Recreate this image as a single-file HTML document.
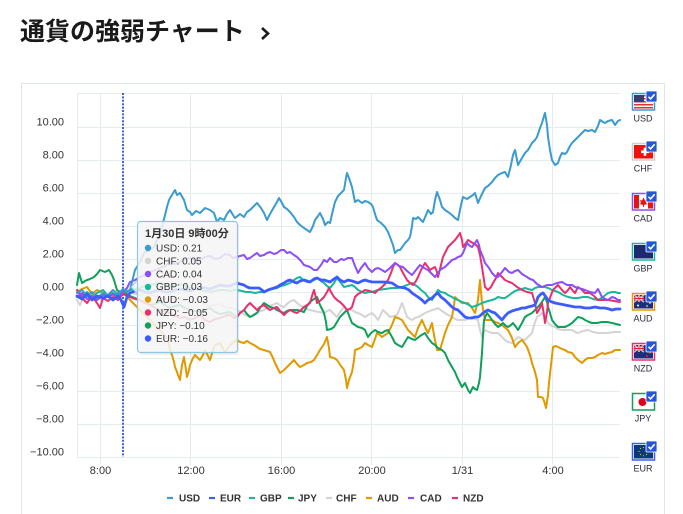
<!DOCTYPE html>
<html><head><meta charset="utf-8"><style>
html,body{margin:0;padding:0;background:#fff;}
svg{display:block;}
text{font-family:"Liberation Sans","Noto Sans CJK JP",sans-serif;}
</style></head><body>
<svg width="683" height="514" viewBox="0 0 683 514" xmlns="http://www.w3.org/2000/svg">
<text x="20" y="40" font-size="25" font-weight="bold" fill="#1a1a1a" style="font-family:'Liberation Sans','Noto Sans CJK JP',sans-serif">通貨の強弱チャート</text>
<polyline points="262,28 268,33.5 262,39" fill="none" stroke="#1a1a1a" stroke-width="2.6"/>
<rect x="21.5" y="83.5" width="643" height="440" fill="none" stroke="#dfe6e9" stroke-width="1"/>
<g stroke="#e5ecee" stroke-width="1" fill="none">
<line x1="77" y1="93.5" x2="620" y2="93.5"/>
<line x1="77" y1="127.5" x2="620" y2="127.5"/><line x1="77" y1="160.5" x2="620" y2="160.5"/><line x1="77" y1="193.5" x2="620" y2="193.5"/><line x1="77" y1="226.5" x2="620" y2="226.5"/><line x1="77" y1="259.5" x2="620" y2="259.5"/><line x1="77" y1="292.5" x2="620" y2="292.5"/><line x1="77" y1="325.5" x2="620" y2="325.5"/><line x1="77" y1="358.5" x2="620" y2="358.5"/><line x1="77" y1="391.5" x2="620" y2="391.5"/><line x1="77" y1="424.5" x2="620" y2="424.5"/><line x1="77" y1="457.5" x2="620" y2="457.5"/>
<line x1="77.5" y1="93" x2="77.5" y2="458"/>
<line x1="100.5" y1="93" x2="100.5" y2="465"/><line x1="190.5" y1="93" x2="190.5" y2="465"/><line x1="281.5" y1="93" x2="281.5" y2="465"/><line x1="371.5" y1="93" x2="371.5" y2="465"/><line x1="462.5" y1="93" x2="462.5" y2="465"/><line x1="552.5" y1="93" x2="552.5" y2="465"/>
</g>
<g font-size="11" fill="#333" text-anchor="end">
<text x="64" y="125.5">10.00</text><text x="64" y="158.5">8.00</text><text x="64" y="191.5">6.00</text><text x="64" y="224.5">4.00</text><text x="64" y="257.5">2.00</text><text x="64" y="290.5">0.00</text><text x="64" y="323.5">−2.00</text><text x="64" y="356.5">−4.00</text><text x="64" y="389.5">−6.00</text><text x="64" y="422.5">−8.00</text><text x="64" y="455.5">−10.00</text>
</g>
<g font-size="11" fill="#333" text-anchor="middle">
<text x="100.5" y="474">8:00</text><text x="191" y="474">12:00</text><text x="281.5" y="474">16:00</text><text x="372" y="474">20:00</text><text x="462.5" y="474">1/31</text><text x="553" y="474">4:00</text>
</g>
<line x1="123" y1="93" x2="123" y2="457" stroke="#2a4fd6" stroke-width="1.8" stroke-dasharray="2 1.4"/>
<g fill="none" stroke-width="2" stroke-linejoin="round" stroke-linecap="round">
<polyline stroke="#d4d4d4" points="77,300 80,305 84,296 89,300 95,297 100,300 105,296 110,298 115,294 120,297 124,291 130,292 135,294 140,295 145,293 150,293 155,296 160,297 165,299 170,300 175,298 180,298 185,301 190,303 195,302 200,301 205,304 210,306 215,305 220,304 225,307 230,308 234,309 237,310 241,312 245,315 250,317 254,314 258,312 264,310 268,307 272,305 277,303 281,306 284,307 288,303 291,301 294,300 297,303 301,306 304,307 307,309 310,310 314,311 319,312 324,313 327,311 330,310 334,314 337,317 340,312 344,307 348,309 352,310 355,312 358,313 362,315 365,317 368,315 372,313 375,316 378,320 381,314 383,310 387,314 390,317 394,316 397,315 400,308 402,303 405,311 407,317 410,319 412,320 415,318 418,317 422,315 425,313 430,311 432,310 436,309 438,308 442,311 445,313 448,315 452,317 455,319 458,320 462,320 465,320 469,318 472,317 475,319 478,320 480,330 482,337 484,332 485,330 489,332 492,333 495,333 498,333 502,337 505,340 508,342 512,343 515,340 518,337 522,339 525,340 528,337 532,333 534,325 537,317 540,315 542,313 545,318 548,323 552,326 555,327 558,329 562,330 567,330 572,330 575,332 578,333 583,331 588,330 593,332 598,333 603,333 608,333 614,332 620,332"/>
<polyline stroke="#e09a00" points="77,292 82,289 87,287 92,294 97,290 103,293 108,297 113,295 118,293 123,293 127,296 130,300 135,305 140,310 145,315 150,320 155,325 160,330 164,335 168,340 170,350 172,355 174,362 175,367 177,372 178,375 180,380 182,365 184,357 186,370 187,377 189,370 190,365 193,358 195,355 198,358 200,360 203,355 205,350 208,356 210,360 213,350 215,345 218,344 220,343 223,349 225,352 228,348 230,345 234,342 237,340 240,342 244,343 247,341 250,343 254,345 257,347 260,349 264,350 267,351 270,352 273,358 275,363 278,369 280,373 284,370 287,367 291,363 294,360 297,364 300,367 304,365 307,363 311,362 314,360 317,355 320,350 324,344 327,337 329,348 330,357 334,358 337,360 341,366 344,370 346,380 347,388 349,380 352,372 354,360 355,350 358,349 362,347 365,343 368,345 372,347 375,339 377,333 380,335 382,337 385,335 388,333 392,325 395,317 398,318 402,320 405,325 408,330 412,334 415,337 418,328 422,320 425,327 428,333 430,328 432,323 434,335 436,345 437,350 440,350 442,343 445,333 448,325 452,317 454,305 455,297 458,300 462,303 465,303 468,303 472,308 475,313 477,305 478,300 479,290 480,280 481,292 482,303 484,315 485,320 488,320 492,320 495,322 498,323 503,326 508,330 512,338 515,347 518,343 522,340 525,344 527,347 530,355 532,363 535,372 537,380 538,397 541,397 543,398 545,404 546,408 548,395 549,383 551,365 553,347 556,346 558,347 562,349 565,350 568,352 572,353 575,357 578,360 582,363 585,360 588,358 592,358 595,357 598,355 602,353 605,354 608,353 612,352 615,350 618,350 620,350"/>
<polyline stroke="#0fa05a" points="77,285 79,273 82,283 85,281 87,280 90,279 94,277 97,274 100,270 105,272 109,270 112,275 114,280 117,290 120,292 124,293 127,294 130,296 135,298 140,300 145,303 150,305 155,304 160,302 165,305 170,308 175,306 180,305 185,308 190,310 195,311 200,312 205,310 210,308 215,312 220,314 225,313 230,312 234,315 237,317 240,313 244,310 247,314 250,317 254,315 257,313 260,308 264,303 267,305 270,307 274,308 277,310 281,312 284,313 287,311 290,310 294,310 297,310 301,311 304,312 307,306 310,302 314,299 317,297 320,305 324,313 326,322 327,330 331,329 334,327 337,322 340,317 344,313 347,310 350,318 352,323 355,325 358,327 362,328 365,330 368,337 371,333 375,330 378,332 382,333 385,331 388,330 392,337 395,343 398,345 402,347 405,342 408,337 412,339 415,340 420,336 425,333 428,338 432,343 435,345 438,348 442,350 445,353 448,360 452,367 455,372 457,377 460,383 462,387 465,383 468,390 470,393 472,389 473,387 475,389 477,390 479,383 480,377 481,365 482,353 483,335 484,320 487,313 490,317 492,320 495,324 498,327 501,325 503,323 506,326 508,327 511,325 513,323 516,327 518,330 522,323 525,317 528,315 532,313 535,310 538,307 542,302 545,297 547,302 548,307 550,313 552,320 555,324 558,327 562,327 565,327 569,325 572,323 575,320 578,317 582,318 585,320 589,322 592,323 597,323 602,322 607,322 612,323 616,324 620,325"/>
<polyline stroke="#19b89a" points="77,290 82,296 87,292 92,297 97,293 103,290 108,296 113,293 118,296 123,292 127,291 130,290 135,289 140,288 145,286 150,285 155,284 160,283 165,285 170,286 175,285 180,284 185,286 190,288 195,289 200,290 205,291 210,292 215,291 220,290 225,290 230,291 234,290 237,290 242,291 246,292 250,292 255,293 260,292 264,292 268,290 272,289 277,288 281,286 285,285 290,283 294,280 297,278 300,277 303,280 307,282 310,282 314,280 317,278 321,281 324,283 327,286 330,288 334,283 337,278 341,283 344,287 348,286 352,285 355,287 358,290 362,292 365,293 369,292 372,292 375,291 378,290 385,289 392,288 397,288 402,287 407,285 412,283 415,285 418,287 421,290 425,293 428,297 432,300 435,295 438,290 441,292 445,293 448,295 452,297 455,299 458,300 462,302 465,303 469,305 472,307 475,306 478,305 482,303 485,302 488,301 492,300 495,299 498,297 502,298 505,298 508,296 512,293 515,291 518,290 522,289 525,288 528,289 532,290 535,288 538,287 542,287 545,287 548,288 552,290 555,291 558,292 563,295 568,297 573,298 578,298 583,297 588,297 593,299 598,300 603,297 608,293 612,292 615,292 618,293 620,293"/>
<polyline stroke="#e8306e" points="77,290 82,298 87,303 92,296 97,303 100,308 103,298 108,301 113,297 118,300 123,294 127,296 130,297 135,299 140,300 145,303 150,305 155,308 160,310 165,311 170,313 175,316 180,318 185,317 190,320 195,318 200,315 205,320 210,322 215,319 220,318 225,316 230,315 234,318 237,317 240,313 244,310 247,306 250,303 254,307 257,310 260,307 264,305 267,308 270,310 274,308 277,307 281,312 284,315 287,312 290,310 294,312 297,313 301,310 304,307 307,305 310,303 312,296 314,290 316,298 317,303 321,300 324,297 327,292 329,288 331,292 334,297 337,300 340,302 344,306 347,310 350,309 352,307 355,297 358,294 362,292 365,290 370,291 375,293 378,290 382,287 385,284 388,280 391,273 393,267 395,263 398,265 400,267 403,273 407,280 410,283 413,285 416,281 418,277 421,270 425,263 428,267 430,270 433,268 435,267 437,272 438,277 441,265 443,257 446,251 448,247 452,243 455,240 458,236 460,233 462,240 463,247 466,243 468,240 471,242 473,243 476,245 478,247 480,255 482,267 484,280 485,287 488,290 491,287 493,283 496,278 498,273 502,277 505,280 509,282 512,283 517,287 522,290 527,292 532,293 535,303 537,313 540,308 542,303 544,315 545,323 547,312 548,303 551,295 553,290 556,287 558,285 562,290 565,293 568,290 570,287 573,291 575,293 578,287 582,290 585,293 590,293 594,296 598,300 603,300 608,300 614,301 620,302"/>
<polyline stroke="#8c4dfa" points="77,297 82,293 87,299 92,296 97,300 103,295 108,297 113,294 118,298 123,292 127,288 130,282 135,280 140,277 145,275 150,272 155,270 160,268 165,266 170,262 175,264 180,262 185,259 190,258 195,261 200,260 205,257 210,256 215,259 220,258 225,254 230,255 233,258 237,257 240,256 244,255 247,259 250,258 254,255 257,253 260,256 264,255 267,253 270,252 274,254 277,253 281,250 284,250 287,253 290,252 294,255 297,257 301,261 304,265 307,266 310,267 314,270 317,270 321,265 324,260 327,262 330,258 334,262 337,262 341,259 344,260 348,258 352,258 355,266 358,273 361,268 365,263 368,268 372,272 375,269 378,268 382,270 385,272 390,268 395,263 399,266 403,267 407,271 412,275 416,270 420,265 424,268 428,270 432,274 435,277 438,273 440,270 443,268 445,267 449,263 452,260 455,259 458,257 461,256 463,253 465,248 467,243 470,246 472,247 475,243 477,240 479,245 480,250 483,257 485,263 489,268 492,273 495,276 498,277 502,272 505,268 509,272 512,273 515,271 518,270 522,274 527,277 530,279 533,280 537,284 542,287 547,285 552,285 557,283 562,282 567,285 572,285 575,287 578,288 582,289 585,290 590,292 595,293 598,289 602,297 605,299 608,300 612,297 615,298 618,300 620,300"/>
<polyline stroke="#3a9bd0" points="77,293 82,290 87,296 92,292 97,298 103,293 108,295 113,290 118,294 123,289 127,292 130,290 135,270 140,262 144,253 149,250 154,247 158,238 162,227 165,215 167,207 169,200 172,195 175,190 177,195 180,193 184,200 187,210 190,212 192,215 196,211 200,213 205,208 210,210 214,213 217,222 220,218 224,220 227,214 230,210 233,215 235,218 240,214 244,217 247,212 250,210 254,206 257,203 261,208 264,213 267,220 270,214 274,207 277,202 279,198 282,203 284,207 287,209 290,212 294,217 297,222 300,225 304,228 307,230 310,232 313,226 315,220 318,216 320,213 323,219 325,225 328,222 330,223 333,210 335,202 338,196 341,193 344,190 346,178 347,173 349,178 352,187 355,202 358,200 362,203 365,201 368,202 371,204 373,207 375,214 377,220 381,223 385,227 388,232 390,237 393,245 395,253 398,250 400,250 403,246 405,243 408,240 410,237 412,226 413,218 416,219 418,217 421,220 423,222 426,215 428,210 431,214 433,212 435,200 437,192 440,200 442,207 445,210 448,212 452,215 455,218 458,220 461,205 463,197 467,199 470,197 473,195 475,193 478,203 481,196 485,188 488,186 492,182 495,178 498,175 502,173 505,172 508,177 511,165 513,155 515,150 517,160 518,165 522,158 525,153 528,150 532,143 535,140 537,137 540,128 542,123 544,116 545,113 547,125 548,137 550,150 552,160 555,165 558,163 560,157 562,153 565,154 567,152 570,146 572,143 575,140 578,137 581,134 585,130 588,131 592,130 595,132 598,126 600,120 603,122 605,123 608,121 612,120 615,125 618,121 620,120"/>
<polyline stroke="#3b5cff" stroke-width="2.8" points="77,296 82,299 87,294 92,300 97,296 103,298 108,296 113,300 118,296 121,300 124,307 127,297 130,293 135,291 140,290 145,292 150,293 155,291 160,290 165,292 170,292 175,290 180,289 185,290 190,291 195,289 200,287 205,288 210,289 215,287 220,285 225,286 230,286 234,284 237,283 240,284 244,285 247,287 250,288 255,288 259,288 262,290 264,292 268,290 271,289 274,288 277,287 280,285 284,283 287,281 290,280 294,282 297,283 300,281 304,280 307,281 310,282 314,279 317,278 321,280 324,280 327,281 330,282 334,279 337,277 340,280 344,282 348,280 352,281 355,282 358,283 362,281 365,280 368,281 372,282 378,282 385,282 392,283 398,287 405,288 409,290 412,293 415,295 418,297 422,300 425,303 428,300 432,298 435,295 438,293 441,297 445,300 448,303 452,307 455,309 458,310 462,314 465,317 468,318 472,318 475,317 478,317 481,315 483,313 486,311 488,310 492,312 495,313 499,317 502,320 505,316 508,313 512,311 515,310 519,309 522,308 525,308 528,307 532,306 535,305 537,300 538,297 541,294 543,293 546,297 548,300 552,302 555,303 560,304 565,305 570,306 575,307 580,307 585,308 590,308 595,307 600,308 605,308 609,309 612,310 616,309 620,309"/>
</g>
<!-- tooltip -->
<rect x="139" y="224" width="100" height="131" rx="3" fill="#000" opacity="0.06"/>
<path d="M137.5,280 L131,287 L137.5,294 Z" fill="#f7f7f7" fill-opacity="0.85" stroke="#8ec6df" stroke-width="1"/>
<rect x="137.5" y="221.5" width="100" height="131" rx="3" fill="#f7f7f7" fill-opacity="0.86" stroke="#8ec6df" stroke-width="1.2"/>
<text x="145" y="237" font-size="11" font-weight="bold" fill="#333">1月30日 9時00分</text>
<g font-size="10" fill="#333">
<circle cx="148" cy="248" r="3.2" fill="#3a9bd0"/><text x="156" y="251.5">USD: 0.21</text>
<circle cx="148" cy="261" r="3.2" fill="#d4d4d4"/><text x="156" y="264.4">CHF: 0.05</text>
<circle cx="148" cy="274" r="3.2" fill="#8c4dfa"/><text x="156" y="277.3">CAD: 0.04</text>
<circle cx="148" cy="287" r="3.2" fill="#19b89a"/><text x="156" y="290.2">GBP: 0.03</text>
<circle cx="148" cy="299.5" r="3.2" fill="#e09a00"/><text x="156" y="303.1">AUD: −0.03</text>
<circle cx="148" cy="312.5" r="3.2" fill="#e8306e"/><text x="156" y="316">NZD: −0.05</text>
<circle cx="148" cy="325.5" r="3.2" fill="#0fa05a"/><text x="156" y="328.9">JPY: −0.10</text>
<circle cx="148" cy="338.5" r="3.2" fill="#3b5cff"/><text x="156" y="341.8">EUR: −0.16</text>
</g>
<!-- flags -->
<defs>
<g id="chk"><rect x="0" y="0" width="11" height="11" rx="1" fill="#2456d6" stroke="#fff" stroke-width="0.8"/><polyline points="2.5,5.8 4.6,7.8 8.6,3.3" fill="none" stroke="#fff" stroke-width="1.6"/></g>
<g id="uj"><rect x="0" y="0" width="10" height="7" fill="#1c2f7a"/><path d="M0,0 L10,7 M10,0 L0,7" stroke="#fff" stroke-width="1.4"/><path d="M0,0 L10,7 M10,0 L0,7" stroke="#d22" stroke-width="0.5"/><path d="M5,0 V7 M0,3.5 H10" stroke="#fff" stroke-width="2"/><path d="M5,0 V7 M0,3.5 H10" stroke="#d22" stroke-width="1"/></g>
</defs>
<g font-size="9" fill="#2b2b3b" text-anchor="middle">
<!-- USD -->
<g transform="translate(632,93)"><rect x="0.5" y="0.5" width="22" height="16.5" fill="#fff" stroke="#3a9bd0" stroke-width="1.5"/>
<rect x="2" y="2" width="19" height="13.5" fill="#fff"/>
<rect x="2" y="2" width="19" height="1.5" fill="#d33"/><rect x="2" y="5" width="19" height="1.5" fill="#d33"/><rect x="2" y="8" width="19" height="1.5" fill="#d33"/><rect x="2" y="11" width="19" height="1.5" fill="#d33"/><rect x="2" y="14" width="19" height="1.5" fill="#d33"/>
<rect x="2" y="2" width="10" height="7" fill="#3c3b6e"/></g>
<use href="#chk" transform="translate(646,91)"/>
<text x="643" y="121.5">USD</text>
<!-- CHF -->
<g transform="translate(632,143)"><rect x="0.5" y="0.5" width="22" height="16.5" fill="#fff" stroke="#d0d0d0" stroke-width="1.5"/>
<rect x="2" y="2" width="19" height="13.5" fill="#ee1111"/>
<rect x="9" y="7.5" width="8" height="2.6" fill="#fff"/><rect x="11.7" y="4.8" width="2.6" height="8" fill="#fff"/></g>
<use href="#chk" transform="translate(646,141)"/>
<text x="643" y="171.5">CHF</text>
<!-- CAD -->
<g transform="translate(632,193)"><rect x="0.5" y="0.5" width="22" height="16.5" fill="#fff" stroke="#8c4dfa" stroke-width="1.5"/>
<rect x="2" y="2" width="5" height="13.5" fill="#e11"/><rect x="16" y="2" width="5" height="13.5" fill="#e11"/>
<path d="M11.5,4.5 L13,7.5 L15,7 L14,10 L15.5,11 L12,12 L12,14 L11,14 L11,12 L7.5,11 L9,10 L8,7 L10,7.5 Z" fill="#e11"/></g>
<use href="#chk" transform="translate(646,191)"/>
<text x="643" y="221.5">CAD</text>
<!-- GBP -->
<g transform="translate(632,243)"><rect x="0.5" y="0.5" width="22" height="16.5" fill="#fff" stroke="#19b89a" stroke-width="1.5"/>
<rect x="2" y="2" width="19" height="13.5" fill="#1d2a6e"/></g>
<use href="#chk" transform="translate(646,241)"/>
<text x="643" y="271.5">GBP</text>
<!-- AUD -->
<g transform="translate(632,293)"><rect x="0.5" y="0.5" width="22" height="16.5" fill="#fff" stroke="#e09a00" stroke-width="1.5"/>
<rect x="2" y="2" width="19" height="13.5" fill="#1c2f7a"/>
<use href="#uj" transform="translate(2,2)"/>
<circle cx="6" cy="12.5" r="1" fill="#fff"/><circle cx="16" cy="6" r="0.8" fill="#fff"/><circle cx="18" cy="10" r="0.8" fill="#fff"/><circle cx="15" cy="13" r="0.8" fill="#fff"/></g>
<use href="#chk" transform="translate(646,291)"/>
<text x="643" y="321.5">AUD</text>
<!-- NZD -->
<g transform="translate(632,343)"><rect x="0.5" y="0.5" width="22" height="16.5" fill="#fff" stroke="#e8306e" stroke-width="1.5"/>
<rect x="2" y="2" width="19" height="13.5" fill="#1c2f7a"/>
<use href="#uj" transform="translate(2,2)"/>
<circle cx="16" cy="6" r="0.9" fill="#e33"/><circle cx="18" cy="10" r="0.9" fill="#e33"/><circle cx="15" cy="13" r="0.9" fill="#e33"/></g>
<use href="#chk" transform="translate(646,341)"/>
<text x="643" y="371.5">NZD</text>
<!-- JPY -->
<g transform="translate(632,393)"><rect x="0.5" y="0.5" width="22" height="16.5" fill="#fff" stroke="#0fa05a" stroke-width="1.5"/>
<rect x="2" y="2" width="19" height="13.5" fill="#fff"/><circle cx="10.5" cy="9" r="4" fill="#e0001a"/></g>
<use href="#chk" transform="translate(646,391)"/>
<text x="643" y="421.5">JPY</text>
<!-- EUR -->
<g transform="translate(632,443)"><rect x="0.5" y="0.5" width="22" height="16.5" fill="#fff" stroke="#3b5cff" stroke-width="1.5"/>
<rect x="2" y="2" width="19" height="13.5" fill="#0b3a7a"/>
<g fill="#e6c200"><circle cx="11.5" cy="4.5" r="0.6"/><circle cx="14.5" cy="5.5" r="0.6"/><circle cx="16" cy="8.5" r="0.6"/><circle cx="14.5" cy="11.5" r="0.6"/><circle cx="11.5" cy="12.8" r="0.6"/><circle cx="8.5" cy="11.5" r="0.6"/><circle cx="7" cy="8.5" r="0.6"/><circle cx="8.5" cy="5.5" r="0.6"/></g></g>
<use href="#chk" transform="translate(646,441)"/>
<text x="643" y="471.5">EUR</text>
</g>
<!-- legend -->
<g stroke-width="2.2">
<line x1="167" y1="498" x2="173" y2="498" stroke="#3a9bd0"/>
<line x1="209" y1="498" x2="215" y2="498" stroke="#3b5cff"/>
<line x1="249" y1="498" x2="255" y2="498" stroke="#19b89a"/>
<line x1="288" y1="498" x2="294" y2="498" stroke="#0fa05a"/>
<line x1="326" y1="498" x2="332" y2="498" stroke="#d4d4d4"/>
<line x1="366" y1="498" x2="372" y2="498" stroke="#e09a00"/>
<line x1="408" y1="498" x2="414" y2="498" stroke="#8c4dfa"/>
<line x1="452" y1="498" x2="458" y2="498" stroke="#e8306e"/>
</g>
<g font-size="10" font-weight="bold" fill="#333">
<text x="179" y="501.5">USD</text><text x="220" y="501.5">EUR</text><text x="260" y="501.5">GBP</text><text x="298" y="501.5">JPY</text><text x="336" y="501.5">CHF</text><text x="377" y="501.5">AUD</text><text x="420" y="501.5">CAD</text><text x="463" y="501.5">NZD</text>
</g>
</svg>
</body></html>
